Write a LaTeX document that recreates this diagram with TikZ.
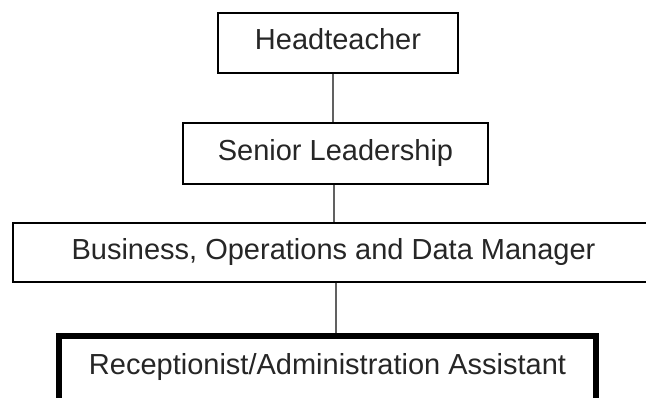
\documentclass[tikz,border=0pt]{standalone}
\usepackage{fontspec}
\setmainfont{Liberation Sans}
\begin{document}
\begin{tikzpicture}[x=1pt,y=1pt,
  box/.style={draw=black, line width=1.6pt, fill=white, inner sep=0pt,
    text=black!85, font=\fontsize{29}{34}\selectfont,
    text height=21pt, text depth=7pt},
  bigbox/.style={draw=black, line width=6pt, fill=white, inner sep=0pt,
    text=black!85, font=\fontsize{29}{34}\selectfont,
    text height=38pt, text depth=60pt},
  link/.style={draw=black!62, line width=2pt}]
\useasboundingbox (0,0) rectangle (646,-398);
\clip (0,0) rectangle (646,-398);
\node[box, minimum width=240pt, minimum height=60pt] (head) at (338,-43) {Headteacher};
\node[box, minimum width=305pt, minimum height=61pt] (slt) at (335.5,-153.5) {Senior Leadership};
\node[box, minimum width=641pt, minimum height=59pt] (bodm) at (333.5,-252.5) {Business, Operations and Data Manager};
\node[bigbox, minimum width=537pt, anchor=north] (rec) at (327.5,-333) {Receptionist/Administration Assistant};
\coordinate (c1) at (333,0);
\coordinate (c2) at (334,0);
\coordinate (c3) at (336,0);
\draw[link] (head.south -| c1) -- (slt.north -| c1);
\draw[link] (slt.south -| c2) -- (bodm.north -| c2);
\draw[link] (bodm.south -| c3) -- (rec.north -| c3);
\end{tikzpicture}
\end{document}
